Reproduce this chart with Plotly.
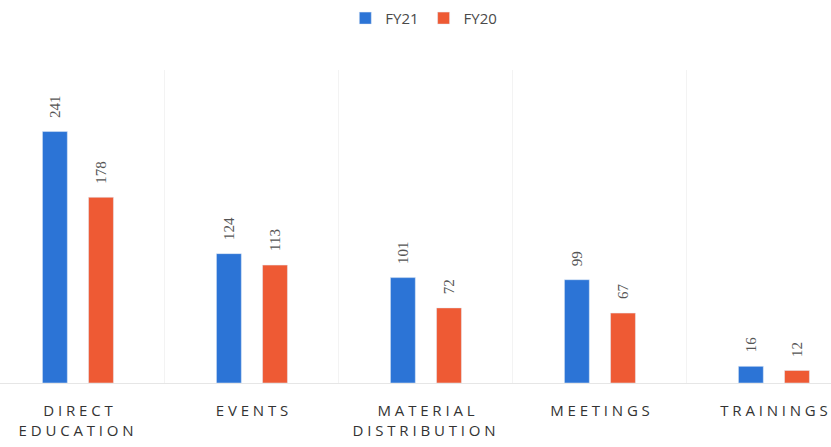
import plotly.graph_objects as go

categories = ["DIRECT<br>EDUCATION", "EVENTS", "MATERIAL<br>DISTRIBUTION", "MEETINGS", "TRAININGS"]
fy21 = [241, 124, 101, 99, 16]
fy20 = [178, 113, 72, 67, 12]

blue = "#2c74d6"
orange = "#ee5a34"

fig = go.Figure()
fig.add_trace(go.Bar(name="FY21", x=categories, y=fy21, marker_color=blue))
fig.add_trace(go.Bar(name="FY20", x=categories, y=fy20, marker_color=orange))

for vals, shift in ((fy21, -23), (fy20, 23)):
    for c, v in zip(categories, vals):
        fig.add_annotation(x=c, y=v, text=str(v), textangle=-90, showarrow=False,
                           xshift=shift, yshift=12, yanchor="bottom",
                           font=dict(family="Liberation Serif", size=15, color="#555555"))

fig.update_layout(
    width=831, height=447,
    margin=dict(l=0, r=0, t=70, b=64),
    plot_bgcolor="white", paper_bgcolor="white",
    barmode="group", bargap=0.47, bargroupgap=0.46,
    showlegend=True,
    legend=dict(orientation="h", x=0.51, xanchor="center", y=1.165, yanchor="middle",
                font=dict(family="Open Sans", size=15, color="#4a4a4a"), itemwidth=30),
)
fig.update_xaxes(range=[-0.448, 4.328], tickson="boundaries", showgrid=True,
                 gridcolor="#f3f3f3", gridwidth=1, ticks="", showline=True,
                 linecolor="#e6e6e6", linewidth=1, ticklabelstandoff=14,
                 tickfont=dict(family="Open Sans", size=15, color="#333333"))
fig.update_yaxes(range=[0, 300], showgrid=False, showticklabels=False, zeroline=False)

post = """
document.body.style.margin = '0';
document.querySelectorAll('.xtick text').forEach(function(t){
  t.style.letterSpacing = '3.8px';
  t.setAttribute('dx', '2');
});
"""
fig.write_html("out.html", post_script=post, config={"displayModeBar": False})
